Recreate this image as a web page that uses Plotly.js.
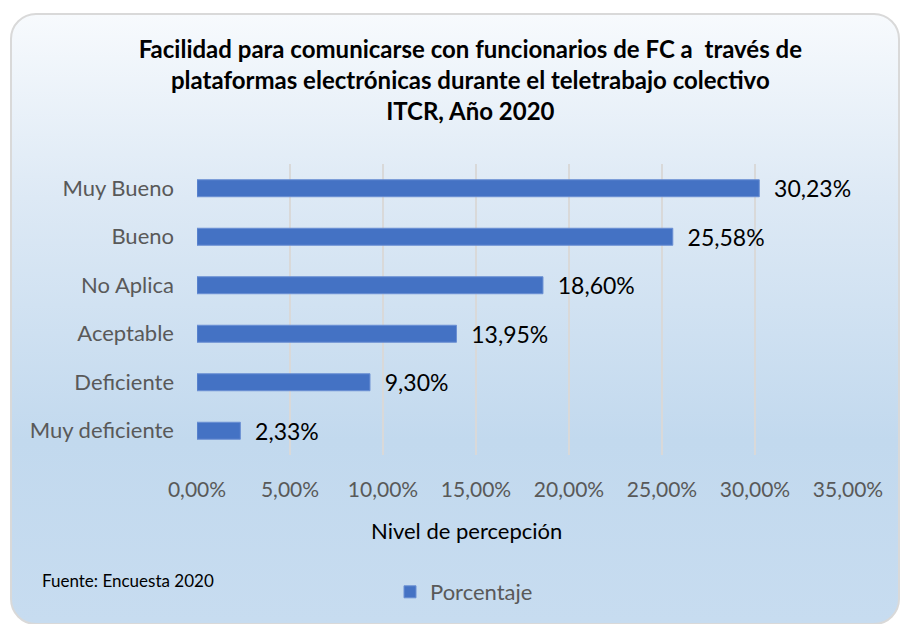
<!DOCTYPE html>
<html>
<head>
<meta charset="utf-8">
<script src="https://cdn.plot.ly/plotly-3.0.1.min.js"></script>
<style>
html,body{margin:0;padding:0;background:#ffffff;width:901px;height:624px;overflow:hidden;}
#frame{position:absolute;left:10px;top:13px;width:886px;height:608px;border:2px solid #d9d9d9;border-radius:26px;
background:linear-gradient(to bottom,#f7fafd 0%,#dde9f5 30%,#c2d9ee 70%,#c7dcf0 100%);}
#chart{position:absolute;left:0;top:0;width:901px;height:624px;}
</style>
</head>
<body>
<div id="frame"></div>
<div id="chart"></div>
<script>
const categories = ["Muy deficiente","Deficiente","Aceptable","No Aplica","Bueno","Muy Bueno"];
const values = [0.0233,0.0930,0.1395,0.1860,0.2558,0.3023];
const tickValues = [0,0.05,0.10,0.15,0.20,0.25,0.30,0.35];
const seriesName = "Porcentaje";

const trace = {
  type:'bar', orientation:'h', y:categories, x:values, name:seriesName,
  marker:{color:'#4472C4', line:{color:'#6a8fd3', width:1}},
  width:0.35,
  texttemplate:'  %{x:.2%}', textposition:'outside', cliponaxis:false, constraintext:'none',
  textfont:{family:'Lato, sans-serif', size:23, color:'#000000'},
  hoverinfo:'none'
};

const layout = {
  width:901, height:624,
  separators:',.',
  paper_bgcolor:'rgba(0,0,0,0)', plot_bgcolor:'rgba(0,0,0,0)',
  margin:{l:197, r:53, t:164, b:169},
  font:{family:'Lato, sans-serif'},
  title:{text:'<b>Facilidad para comunicarse con funcionarios de FC a  través de<br>plataformas electrónicas durante el teletrabajo colectivo<br>ITCR, Año 2020</b>',
    x:0.522, xanchor:'center', xref:'container', y:1-58/624, yanchor:'top', yref:'container',
    font:{family:'Lato, sans-serif', size:24, color:'#000000'}},
  xaxis:{range:[0,0.35], tickvals:tickValues, tickformat:'.2%', showgrid:true, gridcolor:'#d9d9d9', gridwidth:2,
    zeroline:false, showline:false, ticks:'', ticklabelstandoff:20,
    tickfont:{family:'Lato, sans-serif', size:21, color:'#595959'}},
  yaxis:{showgrid:false, zeroline:false, showline:false, ticks:'', ticklabelstandoff:22,
    tickfont:{family:'Lato, sans-serif', size:22, color:'#595959'}},
  showlegend:true,
  legend:{orientation:'h', xref:'container', yref:'container', x:0.515, xanchor:'center', y:1-592/624, yanchor:'middle',
    font:{family:'Lato, sans-serif', size:22, color:'#595959'}, bgcolor:'rgba(0,0,0,0)'},
  annotations:[
    {text:'Nivel de percepción', xref:'paper', yref:'paper', x:(466-197)/651, y:(455-530)/291,
     xanchor:'center', yanchor:'middle', showarrow:false, font:{family:'Lato, sans-serif', size:22, color:'#000000'}},
    {text:'Fuente: Encuesta 2020', xref:'paper', yref:'paper', x:(40-197)/651, y:(455-580)/291,
     xanchor:'left', yanchor:'middle', showarrow:false, font:{family:'Lato, sans-serif', size:17, color:'#000000'}}]
};

Plotly.newPlot('chart',[trace],layout,{staticPlot:true, displayModeBar:false});
</script>
</body>
</html>
